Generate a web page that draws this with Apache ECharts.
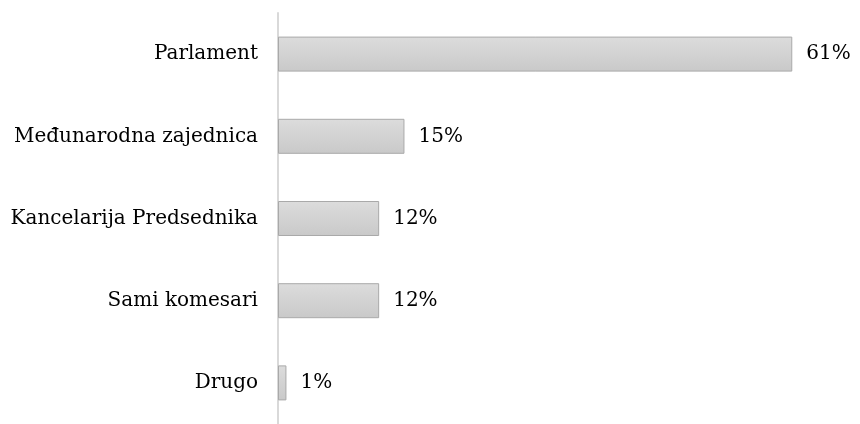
<!DOCTYPE html>
<html>
<head>
<meta charset="utf-8">
<script src="https://cdn.jsdelivr.net/npm/echarts@6/dist/echarts.min.js"></script>
<style>
  html, body { margin: 0; padding: 0; background: #fff; }
  #chart { width: 860px; height: 424px; }
</style>
</head>
<body>
<div id="chart"></div>
<script>
// top to bottom order as in the picture
const categories = ["Parlament", "Međunarodna zajednica", "Kancelarija Predsednika", "Sami komesari", "Drugo"];
const values = [61, 15, 12, 12, 1];

const chart = echarts.init(document.getElementById("chart"));
const font = "'DejaVu Serif', serif";

chart.setOption({
  backgroundColor: "#fff",
  animation: false,
  grid: { left: 278, right: 34, top: 13, bottom: -4 },
  xAxis: {
    type: "value",
    min: 0,
    max: 65,
    show: false,
  },
  yAxis: {
    type: "category",
    inverse: true,
    data: categories,
    axisLine: { show: true, lineStyle: { color: "#d9d9d9", width: 2 } },
    axisTick: { show: false },
    axisLabel: { color: "#000", fontFamily: font, fontSize: 20, margin: 20, padding: [4, 0, 0, 0] },
    splitLine: { show: false },
  },
  series: [
    {
      type: "bar",
      data: values,
      barWidth: 35,
      itemStyle: {
        color: new echarts.graphic.LinearGradient(0, 0, 0, 1, [
          { offset: 0, color: "#dcdcdc" },
          { offset: 1, color: "#c9c9c9" },
        ]),
        borderColor: "#a9a9a9",
        borderWidth: 1,
      },
      label: {
        show: true,
        position: "right",
        distance: 14,
        formatter: "{c}%",
        color: "#000",
        fontFamily: font,
        fontSize: 20,
        padding: [4, 0, 0, 0],
      },
    },
  ],
});
</script>
</body>
</html>
